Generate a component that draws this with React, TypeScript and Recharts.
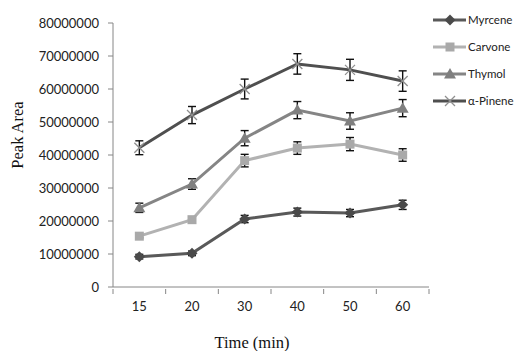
import { LineChart, Line, XAxis, YAxis, ErrorBar } from "recharts";

const times = ["15", "20", "30", "40", "50", "60"];
const myrcene = [9200000, 10200000, 20600000, 22700000, 22400000, 24900000];
const myrceneErr = [700000, 700000, 1100000, 1200000, 1100000, 1400000];
const carvone = [15400000, 20400000, 38300000, 42100000, 43300000, 40000000];
const carvoneErr = [500000, 600000, 1900000, 1900000, 2000000, 1900000];
const thymol = [24000000, 31200000, 45100000, 53600000, 50300000, 54200000];
const thymolErr = [1400000, 1600000, 2300000, 2600000, 2500000, 2600000];
const pinene = [42200000, 52100000, 60000000, 67600000, 65800000, 62400000];
const pineneErr = [2100000, 2600000, 3000000, 3100000, 3200000, 3100000];
const yTicks = [0, 10000000, 20000000, 30000000, 40000000, 50000000, 60000000, 70000000, 80000000];

type Shape = "diamond" | "square" | "triangle" | "cross";

const SERIES: { key: string; name: string; line: string; marker: string; shape: Shape }[] = [
  { key: "myrcene", name: "Myrcene", line: "#595959", marker: "#4a4a4a", shape: "diamond" },
  { key: "carvone", name: "Carvone", line: "#b2b2b2", marker: "#a9a9a9", shape: "square" },
  { key: "thymol", name: "Thymol", line: "#858585", marker: "#7f7f7f", shape: "triangle" },
  { key: "pinene", name: "α-Pinene", line: "#4f4f4f", marker: "#8f8f8f", shape: "cross" },
];

const data = times.map((t, i) => ({
  time: t,
  myrcene: myrcene[i],
  myrceneErr: myrceneErr[i],
  carvone: carvone[i],
  carvoneErr: carvoneErr[i],
  thymol: thymol[i],
  thymolErr: thymolErr[i],
  pinene: pinene[i],
  pineneErr: pineneErr[i],
}));

const TICK_FONT = "Lato, 'Liberation Sans', sans-serif";
const SERIF = "'Liberation Serif', 'Times New Roman', serif";

function Marker({ cx, cy, shape, color }: { cx: number; cy: number; shape: Shape; color: string }) {
  if (cx == null || cy == null) return null;
  if (shape === "diamond") {
    const r = 5.5;
    return <polygon points={`${cx},${cy - r} ${cx + r},${cy} ${cx},${cy + r} ${cx - r},${cy}`} fill={color} />;
  }
  if (shape === "square") {
    return <rect x={cx - 4.5} y={cy - 4.5} width={9} height={9} fill={color} />;
  }
  if (shape === "triangle") {
    return <polygon points={`${cx},${cy - 6} ${cx + 6},${cy + 4.5} ${cx - 6},${cy + 4.5}`} fill={color} />;
  }
  return (
    <g stroke={color} strokeWidth={1.3}>
      <line x1={cx - 5} y1={cy - 5} x2={cx + 5} y2={cy + 5} />
      <line x1={cx - 5} y1={cy + 5} x2={cx + 5} y2={cy - 5} />
    </g>
  );
}

function XTick(props: any) {
  const { x, y, payload, index } = props;
  const half = payload.offset || 0;
  return (
    <g>
      <line x1={x - half} y1={y - 6} x2={x - half} y2={y - 1} stroke="#868686" />
      {index === times.length - 1 && (
        <line x1={x + half} y1={y - 6} x2={x + half} y2={y - 1} stroke="#868686" />
      )}
      <text x={x} y={y + 16} textAnchor="middle" fontSize={13} fontFamily={TICK_FONT} fill="#222">
        {payload.value}
      </text>
    </g>
  );
}

function Legend() {
  return (
    <div style={{ position: "absolute", left: 433, top: 6 }}>
      {SERIES.map((s) => (
        <div key={s.key} style={{ display: "flex", alignItems: "center", height: 27 }}>
          <svg width={34} height={14}>
            <line x1={0} y1={7} x2={33} y2={7} stroke={s.line} strokeWidth={3} />
            <Marker cx={17} cy={7} shape={s.shape} color={s.marker} />
          </svg>
          <span style={{ fontFamily: TICK_FONT, fontSize: 11.5, color: "#222", marginLeft: 1 }}>{s.name}</span>
        </div>
      ))}
    </div>
  );
}

export default function App() {
  return (
    <div style={{ position: "absolute", left: 0, top: 0, width: 523, height: 351, background: "#fff" }}>
      <LineChart width={523} height={351} data={data} margin={{ top: 23, right: 94, bottom: 0, left: 0 }}>
        <XAxis
          dataKey="time"
          scale="band"
          height={64}
          axisLine={{ stroke: "#868686" }}
          tickLine={false}
          tick={<XTick />}
          interval={0}
          label={{
            content: ({ viewBox }: any) => (
              <text x={252} y={viewBox.y + 61} textAnchor="middle" fontSize={16.5} fontFamily={SERIF} fill="#111">
                Time (min)
              </text>
            ),
          }}
        />
        <YAxis
          width={113}
          domain={[0, 80000000]}
          ticks={yTicks}
          interval={0}
          axisLine={{ stroke: "#868686" }}
          tickLine={{ stroke: "#868686" }}
          tickSize={5}
          tickMargin={9}
          tick={{ fontSize: 13, fontFamily: TICK_FONT, fill: "#222" }}
          label={{
            content: () => (
              <text
                x={0}
                y={0}
                transform="translate(23,135) rotate(-90)"
                textAnchor="middle"
                fontSize={16.5}
                fontFamily={SERIF}
                fill="#111"
              >
                Peak Area
              </text>
            ),
          }}
        />
        {SERIES.map((s) => (
          <Line
            key={s.key}
            type="linear"
            dataKey={s.key}
            name={s.name}
            stroke={s.line}
            strokeWidth={3}
            isAnimationActive={false}
            activeDot={false}
            dot={(p: any) => <Marker key={`${s.key}-${p.index}`} cx={p.cx} cy={p.cy} shape={s.shape} color={s.marker} />}
          >
            <ErrorBar dataKey={`${s.key}Err`} width={4} stroke="#111" strokeWidth={1.4} direction="y" />
          </Line>
        ))}
      </LineChart>
      <Legend />
    </div>
  );
}
